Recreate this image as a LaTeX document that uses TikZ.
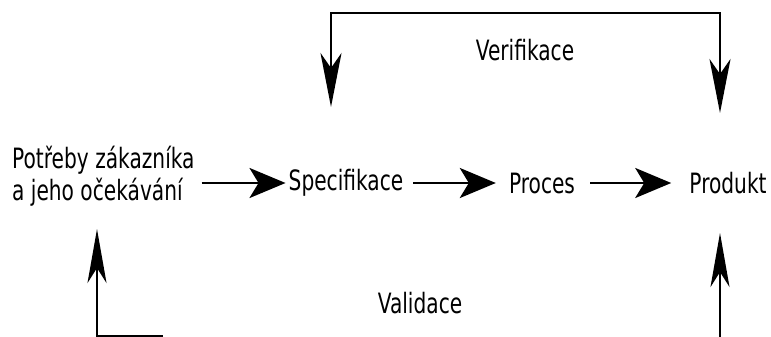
\documentclass[tikz,border=0pt]{standalone}
\usepackage{fontspec}
\setmainfont[FakeStretch=0.72]{DejaVu Sans}
\usetikzlibrary{arrows.meta}

\begin{document}
\begin{tikzpicture}[x=1pt, y=1pt,
		stage/.style={inner sep=3pt, font=\fontsize{28}{32}\selectfont},
		harrow/.style={line width=2.8pt, -{Stealth[length=36pt, width=30pt, inset=9pt]}},
		vboth/.style={line width=2.8pt, {Stealth[length=54pt, width=21pt, inset=15pt]}-{Stealth[length=54pt, width=21pt, inset=15pt]}},
		vup/.style={line width=2.8pt, -{Stealth[length=54pt, width=19pt, inset=15pt]}}]
		\useasboundingbox (0,0) rectangle (771,337);

		% stages of the chain
		\node [stage, align=left, anchor=west] (pot) at (9,161) {Potřeby zákazníka\\a jeho očekávání};
		\node [stage] (spec) at (346,154) {Specifikace};
		\node [stage] (proc) at (542,154) {Proces};
		\node [stage] (prod) at (728,154) {Produkt};

		% arrows from stage to stage
		\draw [harrow, shorten <=4pt] (pot.east |- spec) -- (spec);
		\draw [harrow, shorten <=7pt, shorten >=10pt] (spec) -- (proc);
		\draw [harrow, shorten <=12pt, shorten >=15pt] (proc) -- (prod);

		% verification loop above
		\coordinate (vl) at (331,230);
		\coordinate (vr) at (720,224);
		\coordinate (vtop) at (525,324);
		\draw [vboth] (vl) |- (vtop) -| (vr);
		\node [stage] (veri) at (525,287) {Verifikace};

		% validation loop below (cut off by the lower edge)
		\coordinate (bl) at (163,1);
		\coordinate (vall) at (97,108);
		\draw [vup] (bl) -| (vall);
		\coordinate (br) at (720,0);
		\coordinate (vbr) at (720,104);
		\draw [vup] (br) -- (vbr);
		\node [stage] (vali) at (420,34) {Validace};
	\end{tikzpicture}
\end{document}
